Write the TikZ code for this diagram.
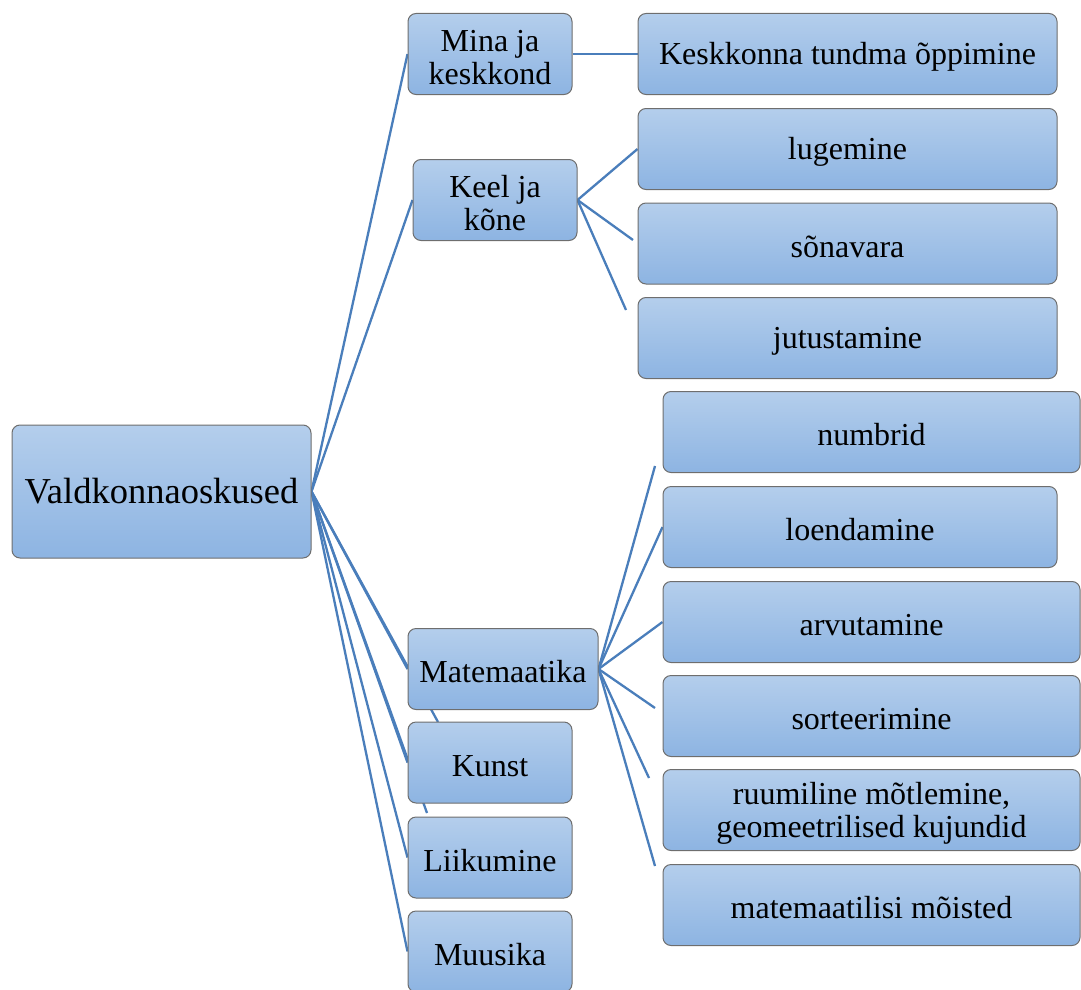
\documentclass[tikz,border=0pt]{standalone}
\usepackage{fontspec}
\setmainfont{Liberation Serif}
\newfontfamily\kastfont{Liberation Serif}
\usetikzlibrary{backgrounds}
\definecolor{boxtop}{HTML}{B4CEEC}
\definecolor{boxbot}{HTML}{8DB4E2}
\definecolor{boxline}{HTML}{6E6E6E}
\definecolor{linkblue}{HTML}{4A7EBB}
\newcommand{\ylos}{\rule{0pt}{28pt}}

\begin{document}
\begin{tikzpicture}[x=1pt,y=-1pt,
  box/.style={draw=boxline,line width=1pt,rounded corners=8pt,top color=boxtop,bottom color=boxbot,
    minimum height=81pt,inner sep=0pt,align=center,font=\kastfont\fontsize{32}{33}\selectfont},
  link/.style={draw=linkblue,line width=2.3pt}]
  \useasboundingbox (0,0) rectangle (1081,990);
  % juur
  \node[box,minimum width=299pt,minimum height=133pt,font=\kastfont\fontsize{36.5}{38}\selectfont] (vald) at (161.5,491.5) {Valdkonnaoskused};
  % valdkonnad
  \node[box,minimum width=164pt] (mina) at (490,54) {\ylos Mina ja\\keskkond};
  \node[box,minimum width=164pt] (keel) at (495,200) {\ylos Keel ja\\kõne};
  \node[box,minimum width=190pt] (mat) at (503,669) {\ylos Matemaatika};
  \node[box,minimum width=164pt] (kunst) at (490,762.5) {\ylos Kunst};
  \node[box,minimum width=164pt] (liik) at (490,857.5) {\ylos Liikumine};
  \node[box,minimum width=164pt] (muus) at (490,951.5) {\ylos Muusika};
  % oskused
  \node[box,minimum width=419pt] (keskk) at (847.5,54) {\ylos Keskkonna tundma õppimine};
  \node[box,minimum width=419pt] (lug) at (847.5,149) {\ylos lugemine};
  \node[box,minimum width=419pt] (sona) at (847.5,243.5) {\ylos sõnavara};
  \node[box,minimum width=419pt] (jut) at (847.5,338) {\ylos jutustamine};
  \node[box,minimum width=417pt] (numb) at (871.5,432) {\ylos numbrid};
  \node[box,minimum width=394pt] (loend) at (860,527) {\ylos loendamine};
  \node[box,minimum width=417pt] (arvut) at (871.5,622) {\ylos arvutamine};
  \node[box,minimum width=417pt] (sort) at (871.5,716) {\ylos sorteerimine};
  \node[box,minimum width=417pt] (ruum) at (871.5,810) {\ylos ruumiline mõtlemine,\\geomeetrilised kujundid};
  \node[box,minimum width=417pt] (moist) at (871.5,905) {\ylos matemaatilisi mõisted};
  % vabad otsad
  \coordinate (v1) at (438,722);
  \coordinate (v2) at (427,813);
  \coordinate (k1) at (633,240);
  \coordinate (k2) at (626,310);
  \coordinate (m1) at (655,466);
  \coordinate (m2) at (655,708);
  \coordinate (m3) at (649,778);
  \coordinate (m4) at (655,866);
  \begin{scope}[on background layer]
    \foreach \n in {mina.west,keel.west,mat.west,v1,kunst.west,v2,liik.west,muus.west}{ \draw[link] (vald.east) -- (\n); }
    \draw[link] (mina.east) -- (keskk.west);
    \foreach \n in {lug.west,k1,k2}{ \draw[link] (keel.east) -- (\n); }
    \foreach \n in {m1,loend.west,arvut.west,m2,m3,m4}{ \draw[link] (mat.east) -- (\n); }
  \end{scope}
\end{tikzpicture}
\end{document}
